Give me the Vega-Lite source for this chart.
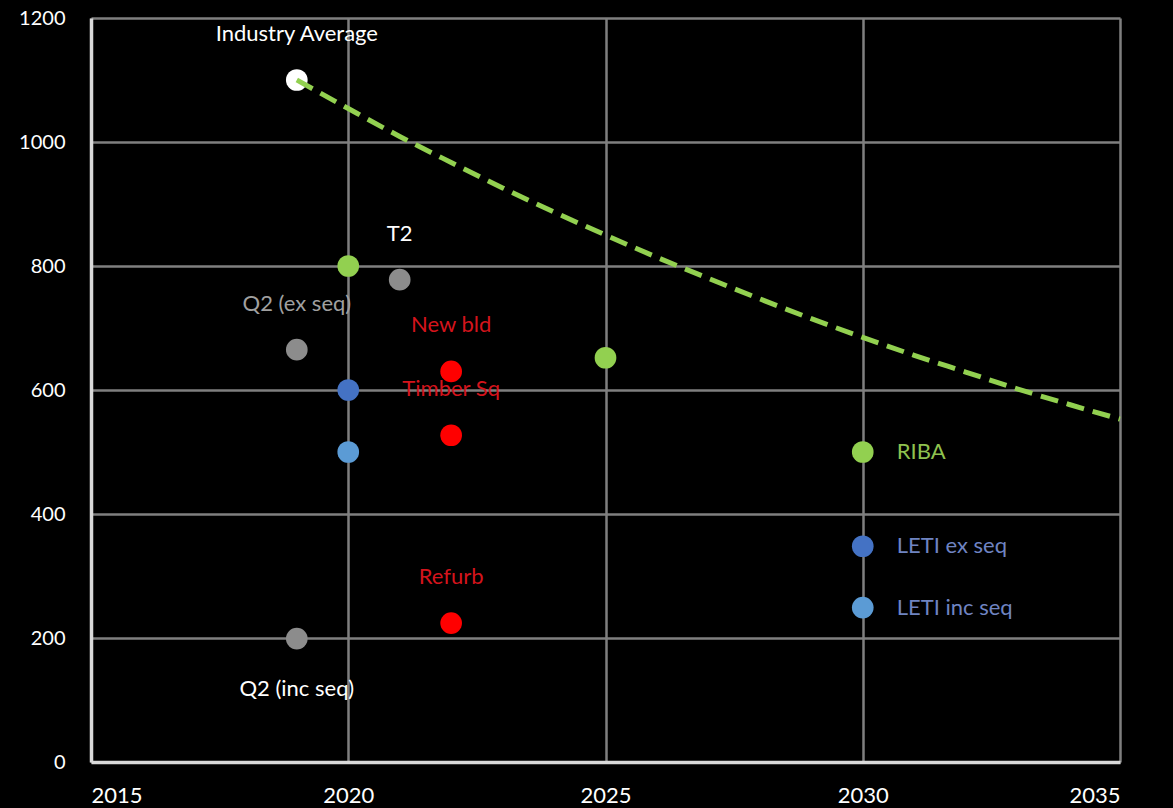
{
  "$schema": "https://vega.github.io/schema/vega-lite/v6.json",
  "width": 1029,
  "height": 744,
  "autosize": {"type": "none"},
  "padding": {"left": 91, "top": 18, "right": 53, "bottom": 46},
  "background": "#000000",
  "config": {
    "view": {"stroke": null},
    "font": "Lato",
    "axis": {
      "labelFont": "Lato",
      "labelFontSize": 20,
      "labelColor": "#ffffff",
      "gridColor": "#7f7f7f",
      "gridWidth": 2.5,
      "gridOpacity": 1,
      "domainColor": "#d9d9d9",
      "domainWidth": 3.5,
      "ticks": false,
      "title": null
    }
  },
  "datasets": {
    "points": [
      {"year": 2019, "value": 1100, "series": "Industry", "label": "Industry Average", "pos": "above", "tone": "light"},
      {"year": 2020, "value": 800, "series": "RIBA", "label": "", "pos": "none", "tone": "green"},
      {"year": 2021, "value": 778, "series": "Case", "label": "T2", "pos": "above", "tone": "light"},
      {"year": 2019, "value": 665, "series": "Case", "label": "Q2 (ex seq)", "pos": "above", "tone": "muted"},
      {"year": 2020, "value": 600, "series": "LETI ex", "label": "", "pos": "none", "tone": "blue"},
      {"year": 2020, "value": 500, "series": "LETI inc", "label": "", "pos": "none", "tone": "blue"},
      {"year": 2022, "value": 630, "series": "Project", "label": "New bld", "pos": "above", "tone": "red"},
      {"year": 2022, "value": 527, "series": "Project", "label": "Timber Sq", "pos": "above", "tone": "red"},
      {"year": 2022, "value": 224, "series": "Project", "label": "Refurb", "pos": "above", "tone": "red"},
      {"year": 2019, "value": 199, "series": "Case", "label": "Q2 (inc seq)", "pos": "below", "tone": "light"},
      {"year": 2025, "value": 652, "series": "RIBA", "label": "", "pos": "none", "tone": "green"},
      {"year": 2030, "value": 500, "series": "RIBA", "label": "RIBA", "pos": "right", "tone": "green"},
      {"year": 2030, "value": 348, "series": "LETI ex", "label": "LETI ex seq", "pos": "right", "tone": "blue"},
      {"year": 2030, "value": 249, "series": "LETI inc", "label": "LETI inc seq", "pos": "right", "tone": "blue"}
    ],
    "trend": [
      {"year": 2019, "value": 1100},
      {"year": 2020, "value": 1054},
      {"year": 2021, "value": 1009},
      {"year": 2022, "value": 967},
      {"year": 2023, "value": 926},
      {"year": 2024, "value": 887},
      {"year": 2025, "value": 850},
      {"year": 2026, "value": 814},
      {"year": 2027, "value": 780},
      {"year": 2028, "value": 747},
      {"year": 2029, "value": 715},
      {"year": 2030, "value": 685},
      {"year": 2031, "value": 656},
      {"year": 2032, "value": 629},
      {"year": 2033, "value": 602},
      {"year": 2034, "value": 577},
      {"year": 2035, "value": 553}
    ]
  },
  "layer": [
    {
      "data": {"name": "points"},
      "mark": {"type": "point", "filled": true, "shape": "circle", "size": 470, "opacity": 1},
      "encoding": {
        "x": {
          "field": "year", "type": "quantitative",
          "scale": {"domain": [2015, 2035], "nice": false, "zero": false},
          "axis": {"values": [2015, 2020, 2025, 2030, 2035], "format": "d", "labelFontSize": 22, "labelPadding": 23, "grid": true}
        },
        "y": {
          "field": "value", "type": "quantitative",
          "scale": {"domain": [0, 1200], "nice": false},
          "axis": {"values": [0, 200, 400, 600, 800, 1000, 1200], "format": "d", "labelFontSize": 20, "labelPadding": 26, "grid": true}
        },
        "color": {
          "field": "series", "type": "nominal",
          "scale": {
            "domain": ["Industry", "RIBA", "Case", "LETI ex", "LETI inc", "Project"],
            "range": ["#ffffff", "#92d050", "#8c8c8c", "#4472c4", "#5b9bd5", "#ff0000"]
          },
          "legend": null
        }
      }
    },
    {
      "data": {"name": "trend"},
      "mark": {"type": "line", "color": "#92d050", "strokeWidth": 5, "strokeDash": [18, 9], "interpolate": "monotone"},
      "encoding": {
        "x": {"field": "year", "type": "quantitative"},
        "y": {"field": "value", "type": "quantitative"}
      }
    },
    {
      "data": {"name": "points"},
      "transform": [{"filter": "datum.pos === 'above'"}],
      "mark": {"type": "text", "fontSize": 22, "dy": -46, "align": "center", "baseline": "middle"},
      "encoding": {
        "x": {"field": "year", "type": "quantitative"},
        "y": {"field": "value", "type": "quantitative"},
        "text": {"field": "label"},
        "color": {
          "field": "tone", "type": "nominal",
          "scale": {"domain": ["light", "muted", "red", "green", "blue"], "range": ["#ffffff", "#a0a0a0", "#d4141c", "#8fc24f", "#6f84c2"]},
          "legend": null
        }
      }
    },
    {
      "data": {"name": "points"},
      "transform": [{"filter": "datum.pos === 'below'"}],
      "mark": {"type": "text", "fontSize": 22, "dy": 50, "align": "center", "baseline": "middle"},
      "encoding": {
        "x": {"field": "year", "type": "quantitative"},
        "y": {"field": "value", "type": "quantitative"},
        "text": {"field": "label"},
        "color": {
          "field": "tone", "type": "nominal",
          "scale": {"domain": ["light", "muted", "red", "green", "blue"], "range": ["#ffffff", "#a0a0a0", "#d4141c", "#8fc24f", "#6f84c2"]},
          "legend": null
        }
      }
    },
    {
      "data": {"name": "points"},
      "transform": [{"filter": "datum.pos === 'right'"}],
      "mark": {"type": "text", "fontSize": 22, "dx": 34, "align": "left", "baseline": "middle"},
      "encoding": {
        "x": {"field": "year", "type": "quantitative"},
        "y": {"field": "value", "type": "quantitative"},
        "text": {"field": "label"},
        "color": {
          "field": "tone", "type": "nominal",
          "scale": {"domain": ["light", "muted", "red", "green", "blue"], "range": ["#ffffff", "#a0a0a0", "#d4141c", "#8fc24f", "#6f84c2"]},
          "legend": null
        }
      }
    }
  ],
  "resolve": {"scale": {"color": "independent"}}
}
